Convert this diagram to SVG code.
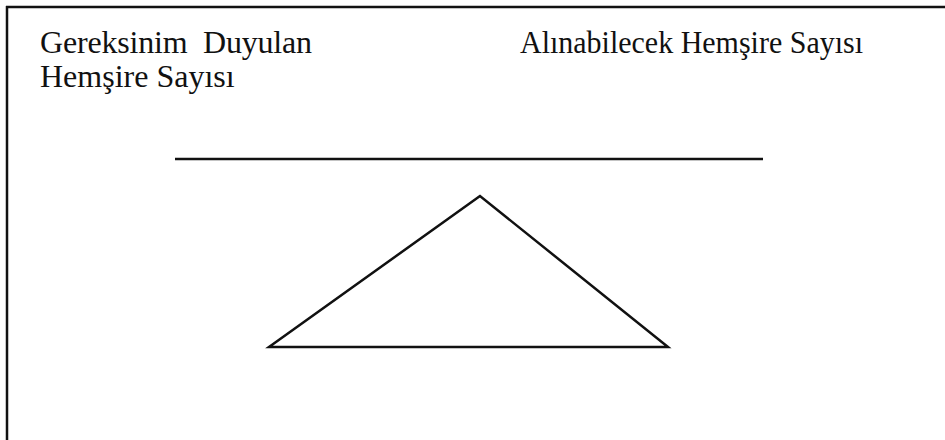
<svg xmlns="http://www.w3.org/2000/svg" width="945" height="440" viewBox="0 0 945 440">
<style>
.t{font-family:"Liberation Serif","Times New Roman",serif;font-size:32px;fill:#111;white-space:pre}
.ln{stroke:#111;stroke-width:2.5;fill:none}
</style>
<rect width="945" height="440" fill="#fff"/>
<g id="frame">
<line class="ln" x1="6" y1="7" x2="945" y2="7"/>
<line class="ln" x1="7" y1="6" x2="7" y2="440"/>
</g>
<g id="label-left">
<text class="t" x="40" y="53" textLength="272" lengthAdjust="spacing">Gereksinim  Duyulan</text>
<text class="t" x="40" y="87">Hemşire Sayısı</text>
</g>
<g id="label-right">
<text class="t" x="520" y="53" textLength="343" lengthAdjust="spacingAndGlyphs">Alınabilecek Hemşire Sayısı</text>
</g>
<g id="beam">
<line class="ln" x1="175" y1="159" x2="763" y2="159"/>
</g>
<g id="fulcrum">
<polygon class="ln" points="480,196 269,347 668,347" stroke-linejoin="miter"/>
</g>
</svg>
